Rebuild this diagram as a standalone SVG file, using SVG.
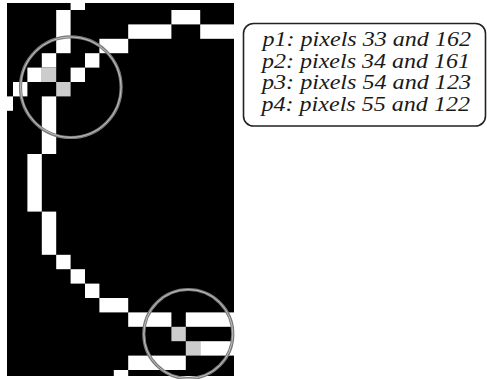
<svg xmlns="http://www.w3.org/2000/svg" width="487" height="379" viewBox="0 0 487 379">
<style>
.w{fill:#fff}
.g{fill:#cccccc}
.ring{fill:none;stroke:#7a7a7a;stroke-width:3.2}
.ringin{fill:none;stroke:#d0d0d0;stroke-width:0.8}
.t{font-family:"Liberation Serif","Times New Roman",Times,serif;font-style:italic;font-size:20px;fill:#1a1a1a}
</style>
<defs>
<clipPath id="clip"><rect x="7" y="3" width="227" height="373"/></clipPath>
</defs>
<rect width="487" height="379" fill="#fff"/>
<g id="grid" clip-path="url(#clip)">
<rect x="7" y="3" width="227" height="373" fill="#000"/>
<rect class="w" x="70.6" y="-4.4" width="14.4" height="14.4"/>
<rect class="w" x="56.2" y="10" width="14.4" height="43.2"/>
<rect class="w" x="171.4" y="10" width="28.8" height="14.4"/>
<rect class="w" x="128.2" y="24.4" width="43.2" height="14.4"/>
<rect class="w" x="200.2" y="24.4" width="43.2" height="14.4"/>
<rect class="w" x="99.4" y="38.8" width="28.8" height="14.4"/>
<rect class="w" x="41.8" y="53.2" width="14.4" height="14.4"/>
<rect class="w" x="85" y="53.2" width="14.4" height="14.4"/>
<rect class="w" x="27.4" y="67.6" width="14.4" height="14.4"/>
<rect class="w" x="70.6" y="67.6" width="14.4" height="14.4"/>
<rect class="g" x="41.8" y="67.6" width="14.4" height="14.4"/>
<rect class="w" x="13" y="82" width="14.4" height="14.4"/>
<rect class="g" x="56.2" y="82" width="14.4" height="14.4"/>
<rect class="w" x="-1.4" y="96.4" width="14.4" height="14.4"/>
<rect class="w" x="41.8" y="96.4" width="14.4" height="57.6"/>
<rect class="w" x="27.4" y="154" width="14.4" height="57.6"/>
<rect class="w" x="41.8" y="211.6" width="14.4" height="43.2"/>
<rect class="w" x="56.2" y="254.8" width="14.4" height="14.4"/>
<rect class="w" x="70.6" y="269.2" width="14.4" height="14.4"/>
<rect class="w" x="85" y="283.6" width="14.4" height="14.4"/>
<rect class="w" x="99.4" y="298" width="28.8" height="14.4"/>
<rect class="w" x="128.2" y="312.4" width="43.2" height="14.4"/>
<rect class="w" x="185.8" y="312.4" width="57.6" height="14.4"/>
<rect class="g" x="171.4" y="326.8" width="14.4" height="14.4"/>
<rect class="g" x="185.8" y="341.2" width="14.4" height="14.4"/>
<rect class="w" x="200.2" y="341.2" width="43.2" height="14.4"/>
<rect class="w" x="128.2" y="355.6" width="57.6" height="14.4"/>
<rect class="w" x="113.8" y="370" width="14.4" height="14.4"/>
</g>
<g id="circle1">
<circle class="ring" cx="70.8" cy="87.2" r="50.3"/>
<circle class="ringin" cx="70.8" cy="87.2" r="50.3"/>
</g>
<g id="circle2">
<circle class="ring" cx="188.3" cy="334" r="44.5"/>
<circle class="ringin" cx="188.3" cy="334" r="44.5"/>
</g>
<g id="legend">
<rect x="243.5" y="23.5" width="242" height="102.5" rx="10" ry="10" fill="#fff" stroke="#222" stroke-width="1.6"/>
<text class="t" x="262.5" y="46" textLength="208.5" lengthAdjust="spacingAndGlyphs">p1: pixels 33 and 162</text>
<text class="t" x="262" y="67.5" textLength="208" lengthAdjust="spacingAndGlyphs">p2: pixels 34 and 161</text>
<text class="t" x="262" y="89" textLength="209" lengthAdjust="spacingAndGlyphs">p3: pixels 54 and 123</text>
<text class="t" x="261.5" y="110.5" textLength="208.5" lengthAdjust="spacingAndGlyphs">p4: pixels 55 and 122</text>
</g>
</svg>
